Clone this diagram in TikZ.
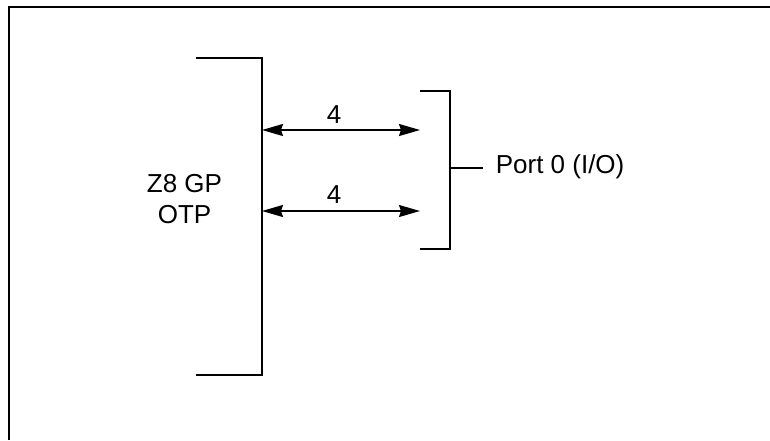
\documentclass[tikz,border=0pt]{standalone}
\usepackage{fontspec}
\setmainfont{Liberation Sans}
\usetikzlibrary{arrows.meta,positioning}
\begin{document}
\begin{tikzpicture}[x=1pt,y=-1pt,line width=1.6pt,
    lbl/.style={font=\fontsize{26}{31}\selectfont, inner sep=0pt, anchor=base},
    bus/.style={{Stealth[length=21pt,width=12pt,inset=2pt]}-{Stealth[length=21pt,width=12pt,inset=2pt]}}]
        \useasboundingbox (0,0) rectangle (770,440);

        % Frame (only its top and left edges fall inside the page)
        \draw (9,440) -- (9,7) -- (770,7);

        % Z8 GP OTP bracket
        \coordinate (z8top) at (262,58);
        \coordinate (z8bot) at (262,375);
        \draw (196,58) -- (z8top) -- (z8bot) -- (196,375);
        \node[lbl] (z8) at (184.5,192) {Z8 GP};
        \node[lbl] (otp) at (184.5,223) {OTP};

        % Port 0 bracket
        \coordinate (ptop) at (450,91);
        \coordinate (pbot) at (450,249);
        \coordinate (pmid) at (450,168);
        \draw (420,91) -- (ptop) -- (pbot) -- (420,249);
        \node[lbl, anchor=base west] (port) at (495,173) {Port 0 (I/O)};
        \draw (pmid) -- (483,168);

        % Buses
        \coordinate (a1) at (262,130);
        \coordinate (b1) at (420,130);
        \coordinate (a2) at (262,211);
        \coordinate (b2) at (420,211);
        \draw[bus] (a1) -- (b1);
        \draw[bus] (a2) -- (b2);
        \node[lbl] (n1) at (334,123) {4};
        \node[lbl] (n2) at (334,203) {4};
\end{tikzpicture}
\end{document}
